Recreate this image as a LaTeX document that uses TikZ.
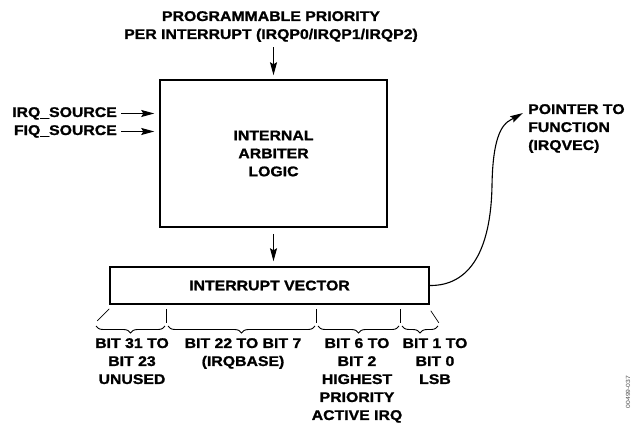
\documentclass[tikz,border=0pt]{standalone}
\usepackage{fontspec}
\setmainfont{Liberation Sans}[FakeStretch=1.13, BoldFeatures={FakeBold=1.2}]
\usetikzlibrary{arrows.meta,positioning,decorations.pathreplacing}

\begin{document}
\begin{tikzpicture}[
			x=1pt, y=-1pt, >={Stealth[length=13pt,width=7pt,inset=2pt]},
			font=\bfseries\fontsize{14}{18}\selectfont,
			blockbox/.style={draw, line width=1.5pt, inner sep=0pt},
			lbl/.style={align=center, inner sep=0pt},
			arr/.style={->, line width=1.1pt},
			tick/.style={line width=0.7pt},
			brc/.style={decorate, decoration={brace, mirror, amplitude=7pt}, line width=0.9pt}
			]
			\useasboundingbox (0,0) rectangle (636,425);
			
			% blocks
			\node[blockbox, minimum width=227pt, minimum height=147pt, align=center] (arb) at (273.5,153.5) {INTERNAL\\ARBITER\\LOGIC};
			\node[blockbox, minimum width=319pt, minimum height=37pt] (vec) at (269.5,285.5) {INTERRUPT VECTOR};
			
			% inputs
			\node[lbl, anchor=north] (prio) at (271,11) {PROGRAMMABLE PRIORITY\\PER INTERRUPT (IRQP0/IRQP1/IRQP2)};
			\node[lbl, anchor=base east] (irq) at (117,117) {IRQ\_SOURCE};
			\node[lbl, anchor=base east] (fiq) at (117,135) {FIQ\_SOURCE};
			\draw[arr, shorten <=5pt, shorten >=4pt] (prio.south -| arb.north) -- (arb.north);
			\draw[arr, shorten <=4pt, shorten >=5pt] (irq.east) -- (irq.east -| arb.west);
			\draw[arr, shorten <=4pt, shorten >=5pt] (fiq.east) -- (fiq.east -| arb.west);
			
			% arbiter -> vector
			\draw[arr, shorten <=6pt, shorten >=5pt] (arb.south) -- (arb.south |- vec.north);
			
			% output
			\node[lbl, align=left, anchor=north west] (ptr) at (528,104) {POINTER TO\\FUNCTION\\(IRQVEC)};
			\coordinate (tip) at ([shift={(-5,9)}]ptr.north west);
			\draw[arr] (vec.east) .. controls (470,286) and (491,250) .. (492,185)
			.. controls (493,125) and (507,122) .. (tip);
			
			% bit fields
			\draw[tick] ([shift={(0,4)}]vec.south west) -- ++(-12,12);
			\foreach \dx in {57,207,291}
			\draw[tick] ([shift={(\dx,4)}]vec.south west) -- ++(0,14);
			\draw[tick] ([shift={(1,6)}]vec.south east) -- ++(8,12);
			\foreach \a/\b in {96/165,168/315,318/399,402/438}
			\draw[brc] (\a,326) -- (\b,326);
			
			\node[lbl, anchor=north] (b31) at (132,338) {BIT 31 TO\\BIT 23\\UNUSED};
			\node[lbl, anchor=north] (b22) at (243,338) {BIT 22 TO BIT 7\\(IRQBASE)};
			\node[lbl, anchor=north] (b6) at (357,338) {BIT 6 TO\\BIT 2\\HIGHEST\\PRIORITY\\ACTIVE IRQ};
			\node[lbl, anchor=north] (b1) at (435,338) {BIT 1 TO\\BIT 0\\LSB};
			
			\node[rotate=90, inner sep=0pt, text=black!70, font=\fontsize{6}{7}\selectfont] (fig) at (628,392) {00499-037};
			
		\end{tikzpicture}
\end{document}
